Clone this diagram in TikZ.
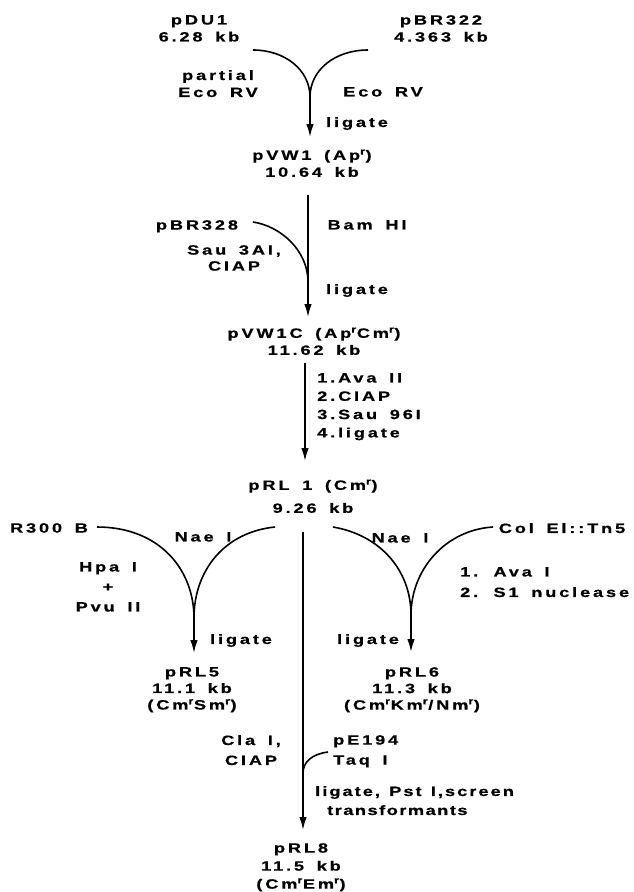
\documentclass[tikz,border=0pt]{standalone}
\usepackage{fontspec}
\setmainfont{Liberation Sans Bold}[FakeStretch=1.35, LetterSpace=21, WordSpace=1.6, FakeBold=0.6]
\newfontfamily\narrowlab{Liberation Sans Bold}[FakeStretch=1.35, LetterSpace=15, WordSpace=1.3, FakeBold=0.6]
\newfontfamily\narrowerlab{Liberation Sans Bold}[FakeStretch=1.35, LetterSpace=11, FakeBold=0.6]
\usetikzlibrary{arrows.meta}
\newcommand\resist{\textsuperscript{r}}
\tikzset{
  lab/.style={font=\fontsize{13.5}{17}\selectfont, align=center, inner sep=0pt, anchor=north},
  labl/.style={lab, align=left, anchor=north west},
  path/.style={line width=1.6pt},
  arr/.style={line width=1.6pt, -{Latex[length=13pt,width=7.5pt]}},
}
\begin{document}
\begin{tikzpicture}[x=1pt,y=-1pt]
\useasboundingbox (0,0) rectangle (633,892);

% ---- plasmids and enzyme labels ----
\node[lab] (pdu)    at (199,15) {pDU1\\6.28 kb};
\node[lab] (pbr322) at (441,15) {pBR322\\4.363 kb};
\node[lab] (lpart)  at (218,70) {partial\\Eco RV};
\node[lab] (lecorv) at (383,87) {Eco RV};
\node[lab] (lliga)  at (357,117) {ligate};
\node[lab] (pvw1)   at (312,149.3) {pVW1 (Ap\resist)\\10.64 kb};

\node[lab] (pbr328) at (197,220) {pBR328};
\node[lab,font=\fontsize{13.5}{16}\selectfont] (lsau) at (234,245) {Sau 3AI,\\CIAP};
\node[lab] (lbam)   at (367,220) {Bam HI};
\node[lab] (lligb)  at (357,284) {ligate};
\node[lab] (pvw1c)  at (314,327.3) {pVW1C (Ap\resist Cm\resist)\\11.62 kb};

\node[labl,font=\fontsize{13.5}{18.3}\selectfont] (lsteps) at (317,373)
  {1.Ava II\\2.CIAP\\3.Sau 96I\\4.ligate};
\node[lab,font=\fontsize{13.5}{23}\selectfont] (prl1) at (313,479.3) {pRL 1 (Cm\resist)\\9.26 kb};

\node[lab] (r300)   at (49,523) {R300 B};
\node[lab] (lnael)  at (203,532) {Nae I};
\node[lab,font=\fontsize{13.5}{20}\selectfont] (lhpa) at (108,562) {Hpa I\\+\\Pvu II};
\node[lab] (lligc)  at (241,634) {ligate};
\node[lab,font=\fontsize{13.5}{16.5}\selectfont] (prl5) at (192,667)
  {pRL5\\11.1 kb\\(Cm\resist Sm\resist)};

\node[lab] (lnaer)  at (400,533) {Nae I};
\node[lab] (cole1)  at (562,523) {Col El::Tn5};
\node[labl,font=\fontsize{13.5}{20.5}\selectfont] (lava) at (460,567) {1. Ava I\\2. S1 nuclease};
\node[lab] (lligd)  at (368,634) {ligate};
\node[lab,font=\fontsize{13.5}{16.5}\selectfont] (prl6) at (412,667)
  {pRL6\\11.3 kb\\(Cm\resist Km\resist/Nm\resist)};

\node[lab,font=\fontsize{13.5}{20}\selectfont] (lcla) at (251,735) {Cla I,\\CIAP};
\node[labl,font=\fontsize{13.5}{20}\selectfont] (pe194) at (333,735) {pE194\\Taq I};
\node[labl,font=\fontsize{13.5}{19}\selectfont] (lpst) at (315,786)
  {{\narrowlab ligate, Pst I,screen}\\\hspace*{12pt}{\narrowerlab transformants}};
\node[lab,font=\fontsize{13.5}{18}\selectfont] (prl8) at (301,843)
  {pRL8\\11.5 kb\\(Cm\resist Em\resist)};

% ---- junction points and free arm ends ----
\coordinate (a1l) at (253,50);
\coordinate (a1r) at (368,50);
\coordinate (j1)  at (310,97);
\coordinate (a2)  at (253,222);
\coordinate (j2)  at (308,282);
\coordinate (k2)  at (305,363);
\coordinate (a3l) at (97,527);
\coordinate (a3r) at (275,527);
\coordinate (j3)  at (194,618);
\coordinate (a4l) at (333,527);
\coordinate (a4r) at (493,527);
\coordinate (j4)  at (411,615);
\coordinate (a5)  at (328,752);
\coordinate (j5)  at (303,773);

% ---- pDU1 + pBR322 -> pVW1 ----
\draw[path] (a1l) .. controls (285,50) and (310,70) .. (j1);
\draw[path] (a1r) .. controls (335,50) and (310,70) .. (j1);
\draw[arr,shorten >=12.3pt] (j1) -- (j1 |- pvw1.north);

% ---- pVW1 + pBR328 -> pVW1C ----
\draw[arr,shorten <=17.5pt,shorten >=10.3pt] (pvw1.south -| j2) -- (pvw1c.north -| j2);
\draw[path] (a2) .. controls (280,226) and (308,250) .. (j2);

% ---- pVW1C -> pRL1 ----
\draw[arr,shorten <=7.6pt,shorten >=18.3pt] (pvw1c.south -| k2) -- (prl1.north -| k2);

% ---- pRL1 + R300B -> pRL5 ----
\draw[path] (a3l) .. controls (160,527) and (194,570) .. (j3);
\draw[path] (a3r) .. controls (225,532) and (194,570) .. (j3);
\draw[arr,shorten >=14pt] (j3) -- (j3 |- prl5.north);

% ---- pRL1 + ColE1::Tn5 -> pRL6 ----
\draw[path] (a4l) .. controls (380,535) and (411,570) .. (j4);
\draw[path] (a4r) .. controls (445,530) and (411,570) .. (j4);
\draw[arr,shorten >=15pt] (j4) -- (j4 |- prl6.north);

% ---- pRL1 + pE194 -> pRL8 ----
\draw[arr,shorten <=18.6pt,shorten >=13pt] (prl1.south -| j5) -- (prl8.north -| j5);
\draw[path] (a5) .. controls (312,754) and (303,762) .. (j5);
\end{tikzpicture}
\end{document}
